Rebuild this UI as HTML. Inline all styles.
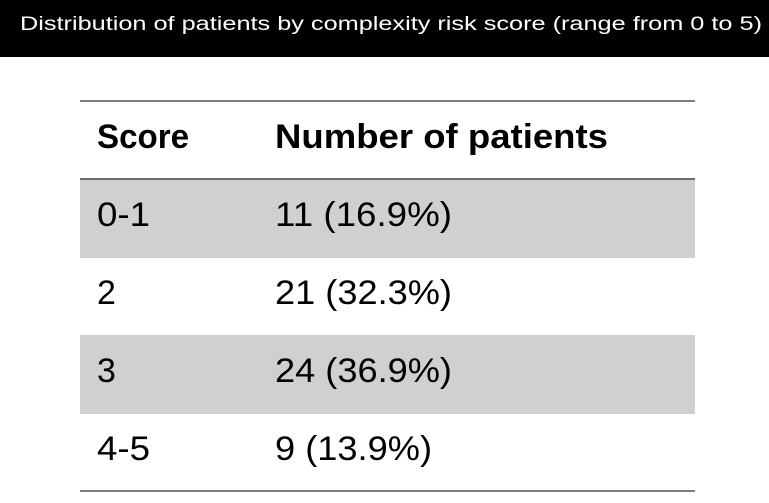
<!DOCTYPE html>
<html><head><style>body{margin:0;background:#fff}svg{display:block}</style></head>
<body>
<svg width="769" height="503" xmlns="http://www.w3.org/2000/svg" font-family="Liberation Sans, sans-serif">
<rect x="0" y="0" width="769" height="57" fill="#000"/>
<text x="20" y="30" fill="#fff" font-size="19" textLength="742" lengthAdjust="spacingAndGlyphs">Distribution of patients by complexity risk score (range from 0 to 5)</text>
<rect x="80" y="179" width="615" height="79" fill="#d0d0d0"/>
<rect x="80" y="335" width="615" height="79" fill="#d0d0d0"/>
<line x1="80" y1="101" x2="695" y2="101" stroke="#555" stroke-width="1.5"/>
<line x1="80" y1="179" x2="695" y2="179" stroke="#444" stroke-width="1.5"/>
<line x1="80" y1="491" x2="695" y2="491" stroke="#555" stroke-width="1.5"/>
<g font-weight="bold" font-size="34" fill="#000">
<text x="97" y="148" textLength="92" lengthAdjust="spacingAndGlyphs">Score</text>
<text x="275" y="148" textLength="333" lengthAdjust="spacingAndGlyphs">Number of patients</text>
</g>
<g font-size="34" fill="#000">
<text x="97" y="226" textLength="53" lengthAdjust="spacingAndGlyphs">0-1</text>
<text x="275" y="226" textLength="177" lengthAdjust="spacingAndGlyphs">11 (16.9%)</text>
<text x="97" y="304">2</text>
<text x="275" y="304" textLength="177" lengthAdjust="spacingAndGlyphs">21 (32.3%)</text>
<text x="97" y="382">3</text>
<text x="275" y="382" textLength="177" lengthAdjust="spacingAndGlyphs">24 (36.9%)</text>
<text x="97" y="460" textLength="53" lengthAdjust="spacingAndGlyphs">4-5</text>
<text x="275" y="460" textLength="157" lengthAdjust="spacingAndGlyphs">9 (13.9%)</text>
</g>
</svg>
</body></html>
